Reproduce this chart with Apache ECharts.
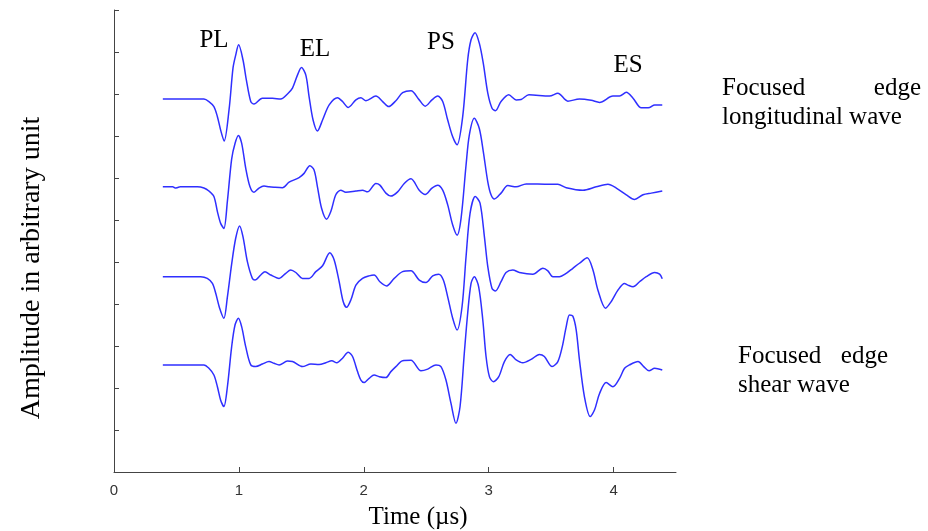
<!DOCTYPE html>
<html>
<head>
<meta charset="utf-8">
<script src="https://cdn.jsdelivr.net/npm/echarts@6/dist/echarts.min.js"></script>
<style>
  html, body { margin: 0; padding: 0; background: #ffffff; }
  #chart { width: 928px; height: 531px; }
</style>
</head>
<body>
<div id="chart"></div>
<script>
// ---- data (time in µs, amplitude in arbitrary, offset units) ----
var xTicks = [0, 1, 2, 3, 4];

var trace1 = [[0.391,8.88],[0.720,8.88],[0.760,8.82],[0.800,8.70],[0.828,8.46],[0.854,8.14],[0.882,7.88],[0.921,8.62],[0.953,9.62],[0.974,9.92],[0.998,10.17],[1.033,9.81],[1.060,9.33],[1.095,8.82],[1.121,8.76],[1.188,8.90],[1.269,8.90],[1.335,8.88],[1.389,9.00],[1.429,9.14],[1.469,9.45],[1.501,9.63],[1.536,9.45],[1.562,8.94],[1.594,8.38],[1.629,8.12],[1.670,8.38],[1.723,8.74],[1.790,8.91],[1.830,8.82],[1.875,8.68],[1.937,8.86],[1.977,8.91],[2.017,8.84],[2.097,8.95],[2.151,8.82],[2.199,8.70],[2.257,8.84],[2.311,9.03],[2.378,9.08],[2.444,8.86],[2.492,8.71],[2.546,8.86],[2.592,8.95],[2.632,8.82],[2.672,8.38],[2.712,7.98],[2.747,7.79],[2.792,8.46],[2.832,9.81],[2.859,10.29],[2.891,10.46],[2.925,10.21],[2.957,9.73],[2.993,9.02],[3.027,8.66],[3.054,8.60],[3.099,8.82],[3.161,8.98],[3.220,8.86],[3.260,8.87],[3.322,8.98],[3.487,8.95],[3.554,9.02],[3.634,8.83],[3.727,8.88],[3.821,8.85],[3.888,8.80],[3.995,8.95],[4.048,8.95],[4.102,9.04],[4.156,8.90],[4.222,8.67],[4.289,8.68],[4.329,8.74],[4.390,8.74]];

var trace2 = [[0.391,6.79],[0.470,6.79],[0.490,6.76],[0.507,6.77],[0.530,6.79],[0.667,6.79],[0.720,6.76],[0.760,6.69],[0.800,6.56],[0.828,6.20],[0.854,5.92],[0.880,5.80],[0.908,6.45],[0.942,7.45],[0.969,7.82],[0.996,8.01],[1.022,7.83],[1.055,7.23],[1.089,6.79],[1.121,6.66],[1.161,6.76],[1.201,6.81],[1.241,6.79],[1.281,6.78],[1.349,6.77],[1.402,6.90],[1.482,7.01],[1.522,7.11],[1.568,7.29],[1.602,7.19],[1.629,6.79],[1.662,6.28],[1.702,6.02],[1.736,6.20],[1.776,6.60],[1.816,6.71],[1.856,6.66],[1.937,6.69],[1.990,6.71],[2.030,6.67],[2.097,6.87],[2.129,6.83],[2.177,6.64],[2.217,6.57],[2.271,6.67],[2.324,6.87],[2.378,6.98],[2.444,6.71],[2.492,6.61],[2.546,6.76],[2.592,6.83],[2.632,6.71],[2.672,6.36],[2.712,5.88],[2.747,5.64],[2.779,6.04],[2.819,7.31],[2.845,8.02],[2.885,8.42],[2.925,8.18],[2.957,7.63],[2.993,6.91],[3.019,6.60],[3.046,6.50],[3.099,6.64],[3.153,6.82],[3.220,6.79],[3.300,6.86],[3.487,6.85],[3.554,6.85],[3.621,6.77],[3.755,6.71],[3.861,6.79],[3.955,6.85],[4.022,6.76],[4.102,6.60],[4.168,6.49],[4.236,6.60],[4.302,6.64],[4.390,6.69]];

var trace3 = [[0.391,4.65],[0.694,4.65],[0.747,4.61],[0.788,4.49],[0.814,4.26],[0.846,3.90],[0.880,3.66],[0.908,4.17],[0.942,4.95],[0.974,5.56],[1.006,5.86],[1.033,5.60],[1.068,5.01],[1.108,4.61],[1.129,4.57],[1.175,4.69],[1.209,4.77],[1.255,4.69],[1.322,4.61],[1.375,4.73],[1.415,4.81],[1.456,4.75],[1.509,4.61],[1.562,4.61],[1.616,4.77],[1.670,4.91],[1.728,5.22],[1.763,5.05],[1.803,4.53],[1.835,4.06],[1.862,3.92],[1.897,4.10],[1.937,4.45],[1.990,4.61],[2.043,4.67],[2.083,4.69],[2.129,4.53],[2.183,4.43],[2.244,4.61],[2.311,4.77],[2.378,4.79],[2.444,4.57],[2.498,4.51],[2.552,4.67],[2.600,4.71],[2.637,4.57],[2.672,4.17],[2.712,3.66],[2.747,3.38],[2.787,3.94],[2.819,5.13],[2.851,6.16],[2.893,6.56],[2.931,6.40],[2.966,5.60],[2.993,4.89],[3.027,4.37],[3.054,4.31],[3.099,4.53],[3.139,4.75],[3.193,4.81],[3.246,4.75],[3.354,4.71],[3.434,4.85],[3.474,4.79],[3.514,4.65],[3.567,4.65],[3.621,4.73],[3.674,4.85],[3.727,4.97],[3.789,5.10],[3.835,4.81],[3.875,4.33],[3.936,3.90],[3.982,4.06],[4.035,4.33],[4.088,4.49],[4.115,4.45],[4.156,4.41],[4.208,4.53],[4.262,4.65],[4.329,4.75],[4.369,4.71],[4.390,4.60]];

var trace4 = [[0.391,2.55],[0.720,2.55],[0.760,2.47],[0.800,2.31],[0.828,2.03],[0.854,1.71],[0.880,1.56],[0.908,2.03],[0.942,2.98],[0.969,3.50],[0.996,3.66],[1.022,3.46],[1.055,2.98],[1.095,2.55],[1.135,2.51],[1.188,2.57],[1.241,2.63],[1.281,2.59],[1.322,2.55],[1.389,2.64],[1.429,2.63],[1.509,2.51],[1.576,2.57],[1.642,2.56],[1.696,2.60],[1.744,2.65],[1.784,2.60],[1.830,2.71],[1.875,2.85],[1.910,2.75],[1.950,2.39],[1.977,2.19],[2.003,2.13],[2.043,2.23],[2.083,2.31],[2.124,2.27],[2.177,2.25],[2.217,2.39],[2.257,2.51],[2.311,2.65],[2.378,2.66],[2.458,2.41],[2.512,2.45],[2.578,2.55],[2.618,2.51],[2.658,2.19],[2.698,1.64],[2.738,1.16],[2.771,1.56],[2.805,2.83],[2.832,3.78],[2.859,4.49],[2.885,4.65],[2.920,4.41],[2.953,3.62],[2.979,2.75],[3.006,2.27],[3.038,2.15],[3.081,2.27],[3.126,2.63],[3.172,2.80],[3.220,2.67],[3.273,2.60],[3.340,2.68],[3.406,2.80],[3.446,2.75],[3.508,2.51],[3.554,2.63],[3.589,2.98],[3.621,3.46],[3.647,3.74],[3.674,3.71],[3.701,3.38],[3.727,2.67],[3.767,1.79],[3.813,1.32],[3.848,1.48],[3.888,1.87],[3.941,2.13],[3.995,2.03],[4.048,2.23],[4.088,2.47],[4.128,2.55],[4.196,2.63],[4.241,2.51],[4.284,2.41],[4.329,2.47],[4.390,2.43]];

var seriesNames = ['Trace 1', 'Trace 2', 'Trace 3', 'Trace 4'];
var peakLabels = ['PL', 'EL', 'PS', 'ES'];
var sideLabelTop = ['Focused', 'edge', 'longitudinal wave'];
var sideLabelBottom = ['Focused', 'edge', 'shear wave'];
var xAxisTitle = 'Time (\u00b5s)';
var yAxisTitle = 'Amplitude in arbitrary unit';

// ---- chart ----
var chart = echarts.init(document.getElementById('chart'), null, { renderer: 'canvas' });
var serif = '"Liberation Serif", "Times New Roman", serif';
var lineColor = '#2f2fff';
var axisColor = '#444444';

function lineSeries(name, data) {
  return {
    name: name, type: 'line', data: data,
    showSymbol: false, symbol: 'none', smooth: 0.3,
    lineStyle: { color: lineColor, width: 1.5 },
    animation: false, z: 3
  };
}

function txt(text, x, y, align) {
  return {
    type: 'text', x: x, y: y, silent: true,
    style: { text: text, fill: '#000', font: '25px ' + serif, textAlign: align || 'left', textVerticalAlign: 'middle' }
  };
}

var option = {
  backgroundColor: '#ffffff',
  animation: false,
  grid: { left: 114, top: 10, right: 252, bottom: 59, containLabel: false, outerBoundsMode: 'none' },
  xAxis: {
    type: 'value', min: 0, max: 4.5, interval: 1,
    name: xAxisTitle, nameLocation: 'middle', nameGap: 33,
    nameTextStyle: { fontFamily: serif, fontSize: 25, color: '#000', padding: [0, 0, 0, 46] },
    axisLine: { show: true, onZero: false, lineStyle: { color: axisColor, width: 1 } },
    axisTick: { show: true, inside: true, length: 5, lineStyle: { color: axisColor }, customValues: xTicks },
    axisLabel: { show: true, margin: 11, fontFamily: '"Liberation Sans", Arial, sans-serif', fontSize: 15, color: '#333', customValues: xTicks },
    splitLine: { show: false }
  },
  yAxis: {
    type: 'value', min: 0, max: 11, interval: 1,
    name: yAxisTitle, nameLocation: 'middle', nameGap: 68,
    nameTextStyle: { fontFamily: serif, fontSize: 28, color: '#000', padding: [0, 54, 0, 0] },
    axisLine: { show: true, onZero: false, lineStyle: { color: axisColor, width: 1 } },
    axisTick: { show: true, inside: true, length: 5, lineStyle: { color: axisColor } },
    axisLabel: { show: false },
    splitLine: { show: false }
  },
  series: [
    lineSeries(seriesNames[0], trace1),
    lineSeries(seriesNames[1], trace2),
    lineSeries(seriesNames[2], trace3),
    lineSeries(seriesNames[3], trace4)
  ],
  graphic: [
    txt(peakLabels[0], 214, 40, 'center'),
    txt(peakLabels[1], 315, 49, 'center'),
    txt(peakLabels[2], 441, 42, 'center'),
    txt(peakLabels[3], 628, 65, 'center'),
    txt(sideLabelTop[0], 722, 88, 'left'),
    txt(sideLabelTop[1], 921, 88, 'right'),
    txt(sideLabelTop[2], 722, 117, 'left'),
    txt(sideLabelBottom[0], 738, 356, 'left'),
    txt(sideLabelBottom[1], 888, 356, 'right'),
    txt(sideLabelBottom[2], 738, 385, 'left')
  ]
};
chart.setOption(option);
</script>
</body>
</html>
